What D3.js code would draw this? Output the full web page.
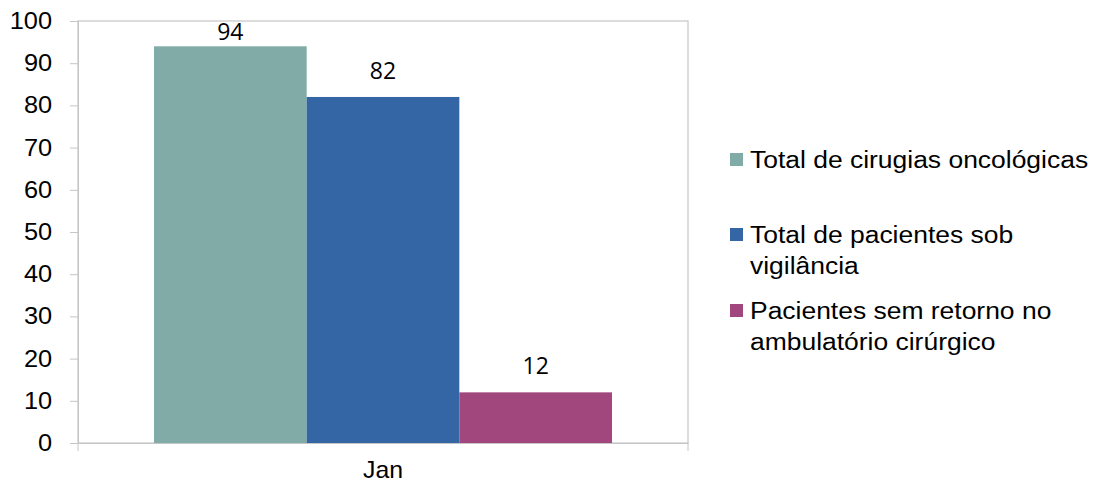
<!DOCTYPE html>
<html lang="pt">
<head>
<meta charset="UTF-8">
<title>Cirurgias oncológicas</title>
<style>
  body { margin: 0; background: #fff; }
  text { font-family: Arial, "Liberation Sans", sans-serif; fill: #000; }
  .lbl { font-family: "Open Sans", "Noto Sans", sans-serif; }
</style>
</head>
<body>
<svg id="chart"></svg>
<script src="https://d3js.org/d3.v7.min.js"></script>
<script>
  const categories = ["Jan"];
  const seriesNames = [
    ["Total de cirugias oncológicas"],
    ["Total de pacientes sob", "vigilância"],
    ["Pacientes sem retorno no", "ambulatório cirúrgico"]
  ];
  const seriesValues = [94, 82, 12];
  const colors = ["#81aba6", "#3465a5", "#a1477e"];
  const yTicks = [0, 10, 20, 30, 40, 50, 60, 70, 80, 90, 100];

  const width = 1097, height = 485;
  const plotLeft = 78, plotRight = 688, plotTop = 21, plotBottom = 443;
  const stretch = 1.08; // the original text is a bit wider than Arial

  const svg = d3.select("#chart").attr("width", width).attr("height", height);

  const x = d3.scaleBand().domain(categories).range([plotLeft, plotRight]).paddingOuter(0.166).paddingInner(0);
  const xs = d3.scaleBand().domain(d3.range(seriesValues.length)).range([0, x.bandwidth()]);
  const y = d3.scaleLinear().domain([0, 100]).range([plotBottom, plotTop]);

  // plot border
  svg.append("rect")
    .attr("x", plotLeft).attr("y", plotTop)
    .attr("width", plotRight - plotLeft).attr("height", plotBottom - plotTop)
    .attr("fill", "none").attr("stroke", "#c6c6c6").attr("stroke-width", 1.2);

  // y axis
  const yAxis = svg.append("g")
    .attr("transform", `translate(${plotLeft},0)`)
    .call(d3.axisLeft(y).tickValues(yTicks).tickSize(8).tickPadding(16));
  yAxis.select(".domain").attr("stroke", "#c6c6c6");
  yAxis.selectAll(".tick line").attr("stroke", "#c6c6c6");
  yAxis.selectAll("text").style("font-size", "23.5px").attr("fill", "#000")
    .attr("font-family", "Arial, 'Liberation Sans', sans-serif")
    .attr("transform", `scale(${stretch},1)`);

  // x axis
  const xAxis = svg.append("g")
    .attr("transform", `translate(0,${plotBottom})`)
    .call(d3.axisBottom(x).tickSize(0).tickPadding(19));
  xAxis.select(".domain").attr("stroke", "#c6c6c6").attr("stroke-width", 1.2);
  xAxis.selectAll(".tick text").style("font-size", "23px").attr("fill", "#000")
    .attr("font-family", "Arial, 'Liberation Sans', sans-serif")
    .attr("transform", `scale(${stretch},1)`)
    .attr("x", 0);
  xAxis.selectAll(".tick").attr("transform", d => `translate(${(x(d) + x.bandwidth() / 2)},0)`);
  [plotLeft, plotRight].forEach(px => {
    svg.append("line").attr("x1", px).attr("x2", px)
      .attr("y1", plotBottom).attr("y2", plotBottom + 8)
      .attr("stroke", "#c6c6c6");
  });

  // bars
  const g = svg.append("g").attr("transform", `translate(${x("Jan")},0)`);
  g.selectAll("rect.bar")
    .data(seriesValues)
    .join("rect")
    .attr("class", "bar")
    .attr("x", (d, i) => xs(i))
    .attr("width", xs.bandwidth())
    .attr("y", d => y(d))
    .attr("height", d => y(0) - y(d))
    .attr("fill", (d, i) => colors[i]);

  g.selectAll("text.lbl")
    .data(seriesValues)
    .join("text")
    .attr("class", "lbl")
    .attr("x", (d, i) => xs(i) + xs.bandwidth() / 2)
    .attr("y", d => Math.max(y(d) - 18, plotTop + 19))
    .attr("text-anchor", "middle")
    .style("font-size", "23px")
    .text(d => d);

  // legend
  const legendBase = [168, 243, 319];
  const legend = svg.append("g");
  seriesNames.forEach((lines, i) => {
    legend.append("rect")
      .attr("x", 730).attr("y", legendBase[i] - 15)
      .attr("width", 13).attr("height", 13)
      .attr("fill", colors[i]);
    const t = legend.append("text")
      .attr("transform", `translate(750,${legendBase[i]}) scale(${stretch},1)`)
      .style("font-size", "24.5px");
    lines.forEach((ln, j) => {
      t.append("tspan").attr("x", 0).attr("dy", j ? 31 : 0).text(ln);
    });
  });
</script>
</body>
</html>
